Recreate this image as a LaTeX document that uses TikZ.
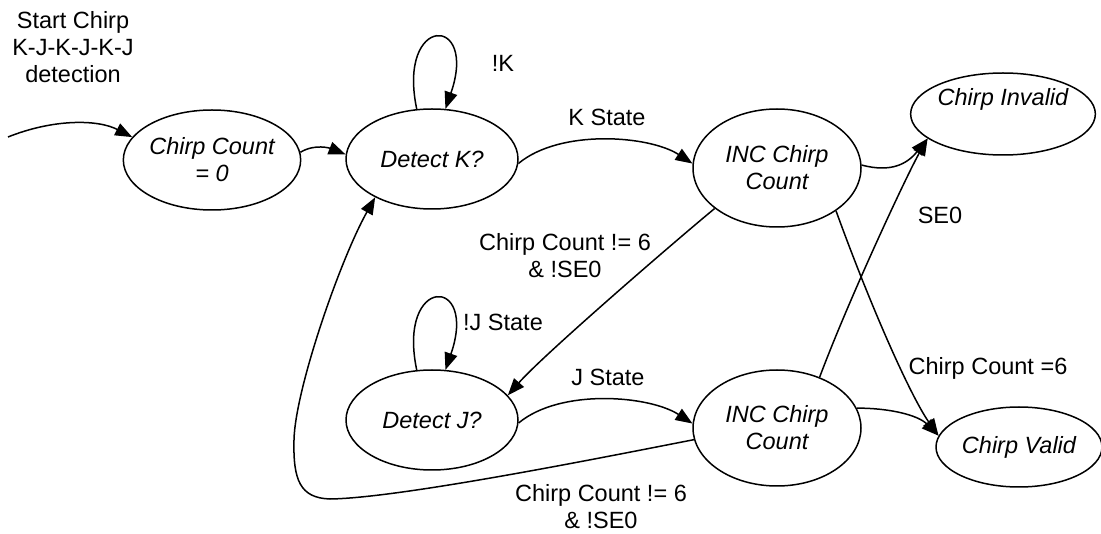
\documentclass[tikz,border=0pt]{standalone}
\usepackage{fontspec}
\setmainfont{Liberation Sans}
\usetikzlibrary{arrows.meta,shapes.geometric}
\begin{document}
\begin{tikzpicture}[x=1pt,y=-1pt,
  every node/.style={font=\fontsize{23.5}{27}\selectfont},
  state/.style={draw,ellipse,line width=1.5pt,inner sep=0pt,align=center,font=\fontsize{23.5}{27}\selectfont\itshape},
  lbl/.style={align=center,inner sep=0pt},
  arr/.style={line width=1.5pt,-{Triangle[length=17pt,width=13pt]}},
  ln/.style={line width=1.5pt}]
\useasboundingbox (0,0) rectangle (1101,534);
% states
\node[state,minimum width=168pt,minimum height=100pt] (c0) at (212,160) {Chirp Count\\= 0};
\node[state,minimum width=172pt,minimum height=100pt] (dk) at (432,159) {Detect K?};
\node[state,minimum width=168pt,minimum height=118pt] (it) at (777,168) {INC Chirp\\Count};
\node[state,minimum width=172pt,minimum height=82pt] (inv) at (1003,114) {\raisebox{8pt}[0pt][0pt]{Chirp Invalid}};
\node[state,minimum width=172pt,minimum height=100pt] (dj) at (432,420) {Detect J?};
\node[state,minimum width=168pt,minimum height=116pt] (ib) at (777,428) {INC Chirp\\Count};
\node[state,minimum width=166pt,minimum height=80pt] (val) at (1019,447) {Chirp Valid};
% labels
\node[lbl] (tstart) at (73,47) {Start Chirp\\K-J-K-J-K-J\\detection};
\node[lbl] (lnk) at (503,63) {!K};
\node[lbl] (lks) at (607,117) {K State};
\node[lbl] (lse) at (940,215) {SE0};
\node[lbl] (lne1) at (565,256) {Chirp Count != 6\\\& !SE0};
\node[lbl] (lnj) at (503,322) {!J State};
\node[lbl] (ljs) at (608,377) {J State};
\node[lbl] (lne2) at (601,507) {Chirp Count != 6\\\& !SE0};
\node[lbl] (leq) at (988,368) {Chirp Count =6};
% connectors
\coordinate (s0) at (8,137);
\draw[arr] (s0) .. controls +(45,-18) and +(-35,-18) .. (c0.164);
\draw[arr] (c0.5) .. controls +(15,-9) and +(-15,-6) .. (dk.177);
\draw[arr] (dk.107) .. controls +(-20,-95) and +(33,-95) .. (dk.75);
\draw[arr] (dk.-3) .. controls +(42,-35) and +(-43,-28) .. (it.177);
\draw[arr] (it.2) .. controls +(30,8) and +(-20,25) .. (inv.198);
\draw[arr] (it.213) .. controls +(-40,33) and +(35,-40) .. (dj.18);
\draw[arr] (it.-36) .. controls +(40,110) and +(-25,-35) .. (val.172);
\draw[arr] (ib.50) .. controls +(30,-80) and +(-20,35) .. (inv.198);
\draw[arr] (ib.14) .. controls +(35,0) and +(-20,-20) .. (val.172);
\draw[arr] (dj.107) .. controls +(-20,-95) and +(33,-95) .. (dj.75);
\draw[arr] (dj.-2) .. controls +(42,-35) and +(-43,-28) .. (ib.177);
\draw[arr] (ib.188) .. controls (600,458) and (400,498) .. (330,499)
   .. controls (300,498) and (293,480) .. (294,440)
   .. controls (295,390) and (340,260) .. (dk.214);
\end{tikzpicture}
\end{document}
